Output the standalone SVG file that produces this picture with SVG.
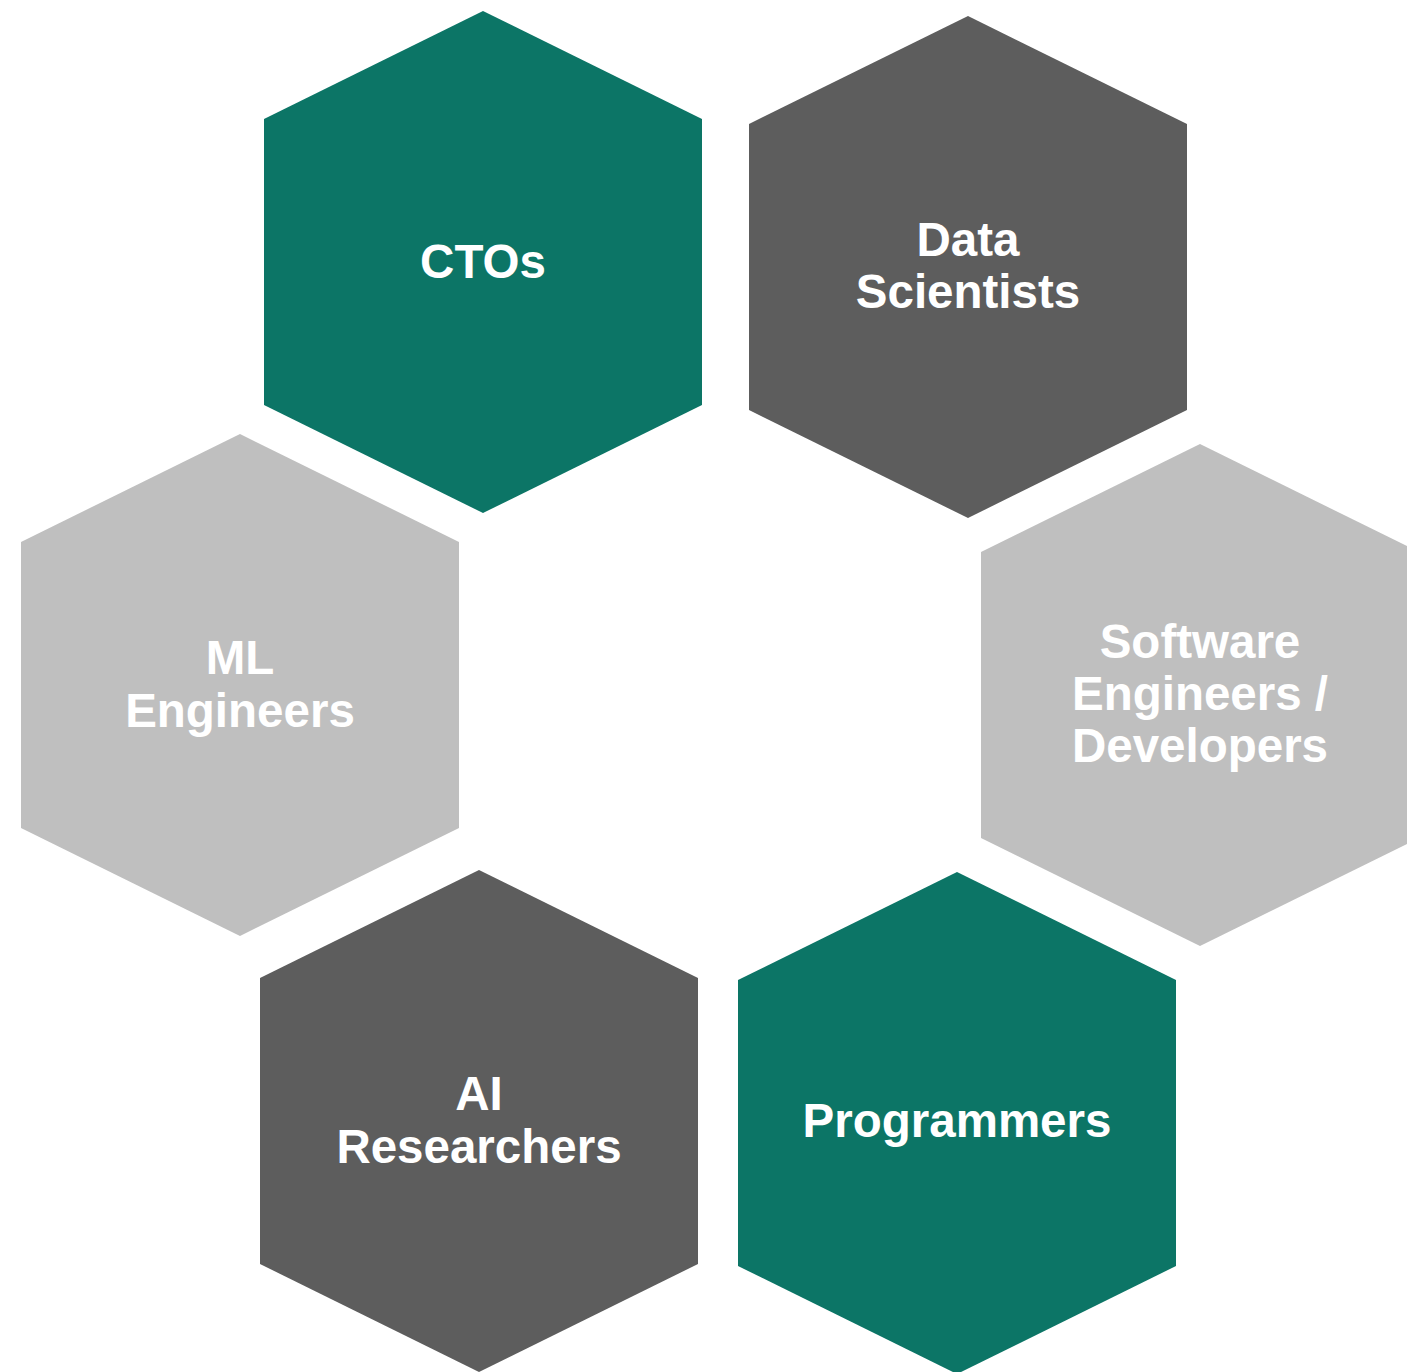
<svg xmlns="http://www.w3.org/2000/svg" width="1407" height="1372" viewBox="0 0 1407 1372">
<style>
.teal{fill:#0C7566}
.dark{fill:#5D5D5D}
.light{fill:#BFBFBF}
.lbl{font-family:"Liberation Sans",Arial,sans-serif;font-weight:bold;font-size:47.5px;fill:#FFFFFF;text-anchor:middle}
</style>
<defs>
<polygon id="hex" points="0,0 219,108 219,394 0,502 -219,394 -219,108"/>
</defs>
<rect width="1407" height="1372" fill="#FFFFFF"/>
<g id="connectors"/>
<g id="ctos">
<use href="#hex" x="483" y="11" class="teal"/>
<text class="lbl" x="483" y="278">CTOs</text>
</g>
<g id="data-scientists">
<use href="#hex" x="968" y="16" class="dark"/>
<text class="lbl" x="968" y="256">Data</text>
<text class="lbl" x="968" y="308">Scientists</text>
</g>
<g id="ml-engineers">
<use href="#hex" x="240" y="434" class="light"/>
<text class="lbl" x="240" y="674">ML</text>
<text class="lbl" x="240" y="727">Engineers</text>
</g>
<g id="software-engineers">
<use href="#hex" x="1200" y="444" class="light"/>
<text class="lbl" x="1200" y="658">Software</text>
<text class="lbl" x="1200" y="710">Engineers /</text>
<text class="lbl" x="1200" y="762">Developers</text>
</g>
<g id="ai-researchers">
<use href="#hex" x="479" y="870" class="dark"/>
<text class="lbl" x="479" y="1110">AI</text>
<text class="lbl" x="479" y="1163">Researchers</text>
</g>
<g id="programmers">
<use href="#hex" x="957" y="872" class="teal"/>
<text class="lbl" x="957" y="1137">Programmers</text>
</g>
</svg>
